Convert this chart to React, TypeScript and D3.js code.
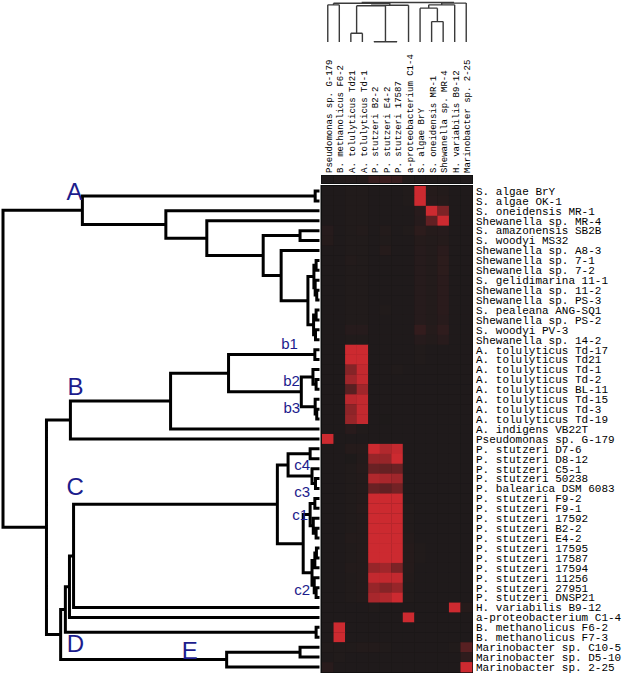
import React from "react";
import * as d3 from "d3";

const rowLabels = [
  "S. algae BrY", "S. algae OK-1", "S. oneidensis MR-1", "Shewanella sp. MR-4",
  "S. amazonensis SB2B", "S. woodyi MS32", "Shewanella sp. A8-3", "Shewanella sp. 7-1",
  "Shewanella sp. 7-2", "S. gelidimarina 11-1", "Shewanella sp. 11-2", "Shewanella sp. PS-3",
  "S. pealeana ANG-SQ1", "Shewanella sp. PS-2", "S. woodyi PV-3", "Shewanella sp. 14-2",
  "A. tolulyticus Td-17", "A. tolulyticus Td21", "A. tolulyticus Td-1", "A. tolulyticus Td-2",
  "A. tolulyticus BL-11", "A. tolulyticus Td-15", "A. tolulyticus Td-3", "A. tolulyticus Td-19",
  "A. indigens VB22T", "Pseudomonas sp. G-179", "P. stutzeri D7-6", "P. stutzeri D8-12",
  "P. stutzeri C5-1", "P. stutzeri 50238", "P. balearica DSM 6083", "P. stutzeri F9-2",
  "P. stutzeri F9-1", "P. stutzeri 17592", "P. stutzeri B2-2", "P. stutzeri E4-2",
  "P. stutzeri 17595", "P. stutzeri 17587", "P. stutzeri 17594", "P. stutzeri 11256",
  "P. stutzeri 27951", "P. stutzeri DNSP21", "H. variabilis B9-12", "a-proteobacterium C1-4",
  "B. methanolicus F6-2", "B. methanolicus F7-3", "Marinobacter sp. C10-5", "Marinobacter sp. D5-10",
  "Marinobacter sp. 2-25",
];

const colLabels = [
  "Pseudomonas sp. G-179", "B. methanolicus F6-2", "A. tolulyticus Td21", "A. tolulyticus Td-1",
  "P. stutzeri B2-2", "P. stutzeri E4-2", "P. stutzeri 17587", "a-proteobacterium C1-4",
  "S. algae BrY", "S. oneidensis MR-1", "Shewanella sp. MR-4", "H. variabilis B9-12",
  "Marinobacter sp. 2-25",
];

const headerValues = [0.03, 0.04, 0.05, 0.05, 0.16, 0.18, 0.16, 0.04, 0.03, 0.03, 0.03, 0.03, 0.03];

const heatValues: number[][] = [
  [.03, .03, .04, .04, .03, .03, .03, .04, 1, .06, .05, .03, .03],
  [.03, .03, .04, .04, .03, .03, .03, .04, 1, .07, .06, .03, .03],
  [.03, .03, .04, .04, .03, .03, .03, .03, .08, 1, .55, .03, .03],
  [.03, .03, .04, .04, .03, .03, .03, .03, .07, .4, 1, .03, .03],
  [.07, .03, .04, .05, .03, .05, .03, .04, .1, .06, .07, .03, .03],
  [.06, .03, .04, .04, .03, .04, .03, .03, .06, .05, .06, .03, .03],
  [.03, .03, .04, .04, .03, .06, .03, .03, .07, .05, .09, .03, .03],
  [.03, .03, .05, .04, .03, .03, .03, .03, .07, .05, .1, .03, .03],
  [.03, .03, .04, .04, .03, .03, .03, .03, .07, .05, .1, .03, .03],
  [.03, .03, .04, .04, .03, .03, .03, .03, .07, .05, .09, .03, .03],
  [.03, .03, .04, .04, .03, .03, .03, .03, .07, .05, .09, .03, .03],
  [.03, .03, .04, .04, .03, .03, .03, .03, .07, .05, .09, .03, .03],
  [.03, .03, .04, .04, .03, .04, .03, .03, .07, .05, .09, .03, .03],
  [.03, .03, .04, .04, .03, .03, .03, .03, .07, .05, .08, .03, .03],
  [.03, .03, .07, .07, .03, .03, .03, .03, .14, .06, .12, .03, .03],
  [.03, .03, .04, .04, .03, .03, .03, .03, .07, .05, .08, .03, .03],
  [.03, .03, 1, 1, .03, .03, .03, .03, .04, .03, .03, .03, .03],
  [.03, .03, 1, 1, .03, .03, .03, .03, .04, .03, .03, .03, .03],
  [.03, .03, .6, .95, .03, .03, .04, .03, .03, .03, .03, .03, .03],
  [.03, .03, .75, .95, .03, .03, .03, .03, .03, .03, .03, .03, .03],
  [.03, .03, .35, .75, .03, .03, .03, .03, .03, .03, .03, .03, .03],
  [.03, .03, .9, .95, .03, .03, .03, .03, .03, .03, .03, .03, .03],
  [.03, .03, .65, .95, .03, .03, .03, .03, .03, .03, .03, .03, .03],
  [.03, .03, .7, .95, .03, .02, .03, .03, .03, .03, .03, .03, .03],
  [.03, .03, .08, .04, .03, .03, .03, .03, .03, .03, .03, .03, .03],
  [1, .03, .03, .03, .03, .03, .03, .03, .03, .03, .03, .03, .03],
  [.03, .03, .06, .06, 1, .85, .95, .03, .03, .03, .03, .03, .03],
  [.03, .03, .02, .05, .7, .7, 1, .03, .03, .03, .03, .03, .03],
  [.03, .03, .04, .06, .45, .42, .45, .03, .03, .03, .03, .03, .03],
  [.03, .03, .04, .05, .85, .8, .75, .03, .03, .03, .03, .03, .03],
  [.03, .03, .04, .05, .45, .4, .5, .03, .03, .03, .03, .03, .03],
  [.03, .03, .04, .05, 1, 1, 1, .03, .03, .03, .03, .03, .03],
  [.03, .03, .04, .06, 1, 1, 1, .04, .03, .03, .03, .03, .03],
  [.03, .03, .04, .05, 1, 1, 1, .04, .03, .03, .03, .03, .03],
  [.03, .03, .04, .05, 1, 1, 1, .04, .03, .03, .03, .03, .03],
  [.03, .03, .05, .05, 1, 1, 1, .05, .03, .03, .03, .03, .03],
  [.03, .03, .04, .05, 1, 1, 1, .06, .04, .03, .03, .03, .03],
  [.03, .03, .04, .05, 1, 1, 1, .06, .04, .03, .03, .03, .03],
  [.03, .03, .05, .05, .7, .75, .55, .06, .03, .03, .03, .03, .03],
  [.03, .03, .04, .05, .95, .95, .95, .05, .03, .03, .03, .03, .03],
  [.03, .03, .04, .05, .7, .6, .7, .04, .03, .03, .03, .03, .03],
  [.03, .03, .04, .05, .8, .85, 1, .04, .03, .03, .03, .03, .03],
  [.03, .03, .03, .03, .04, .03, .03, .03, .03, .03, .03, 1, .06],
  [.03, .03, .03, .03, .03, .03, .03, 1, .03, .03, .03, .03, .03],
  [.03, 1, .03, .03, .03, .03, .03, .03, .03, .03, .03, .03, .03],
  [.03, 1, .03, .03, .03, .03, .03, .03, .03, .03, .03, .03, .03],
  [.04, .04, .04, .05, .05, .04, .03, .03, .03, .03, .03, .04, .35],
  [.03, .04, .03, .03, .03, .03, .03, .03, .03, .03, .03, .03, .12],
  [.08, .03, .03, .03, .03, .03, .03, .03, .03, .03, .03, .03, 1],
];

type TNode = { h: number; label?: string; c: (TNode | string)[] };

// row dendrogram: h = merge distance (0..1)
const rowTree: TNode = { h: 1, c: [
  { h: 0.748, label: "A", c: [
    { h: 0.009, c: ["S. algae BrY", "S. algae OK-1"] },
    { h: 0.483, c: [
      "S. oneidensis MR-1",
      { h: 0.353, c: [
        "Shewanella sp. MR-4",
        { h: 0.174, c: [
          { h: 0.057, c: ["S. amazonensis SB2B", "S. woodyi MS32"] },
          { h: 0.117, c: [
            "Shewanella sp. A8-3",
            { h: 0.032, c: [
              { h: 0.013, c: [
                { h: 0.006, c: ["Shewanella sp. 7-1", "Shewanella sp. 7-2"] },
                { h: 0.009, c: ["S. gelidimarina 11-1", { h: 0.004, c: ["Shewanella sp. 11-2", "Shewanella sp. PS-3"] }] },
              ] },
              { h: 0.014, c: [
                { h: 0.006, c: ["S. pealeana ANG-SQ1", "Shewanella sp. PS-2"] },
                { h: 0.008, c: ["S. woodyi PV-3", "Shewanella sp. 14-2"] },
              ] },
            ] },
          ] },
        ] },
      ] },
    ] },
  ] },
  { h: 0.862, c: [
    { h: 0.786, label: "B", c: [
      { h: 0.468, c: [
        { h: 0.284, c: [
          { h: 0.010, label: "b1", c: ["A. tolulyticus Td-17", "A. tolulyticus Td21"] },
          { h: 0.053, c: [
            { h: 0.016, label: "b2", c: ["A. tolulyticus Td-1", { h: 0.006, c: ["A. tolulyticus Td-2", "A. tolulyticus BL-11"] }] },
            { h: 0.009, label: "b3", c: ["A. tolulyticus Td-15", { h: 0.004, c: ["A. tolulyticus Td-3", "A. tolulyticus Td-19"] }] },
          ] },
        ] },
        "A. indigens VB22T",
      ] },
      "Pseudomonas sp. G-179",
    ] },
    { h: 0.817, label: "D", c: [
      { h: 0.802, c: [
        { h: 0.789, c: [
          { h: 0.776, label: "C", c: [
            { h: 0.129, c: [
              { h: 0.095, c: [
                { h: 0.025, label: "c4", c: ["P. stutzeri D7-6", "P. stutzeri D8-12"] },
                { h: 0.019, label: "c3", c: ["P. stutzeri C5-1", { h: 0.008, c: ["P. stutzeri 50238", "P. balearica DSM 6083"] }] },
              ] },
              { h: 0.047, c: [
                { h: 0.025, label: "c1", c: [
                  { h: 0.010, c: ["P. stutzeri F9-2", "P. stutzeri F9-1"] },
                  { h: 0.015, c: ["P. stutzeri 17592", { h: 0.006, c: ["P. stutzeri B2-2", "P. stutzeri E4-2"] }] },
                ] },
                { h: 0.019, label: "c2", c: [
                  { h: 0.010, c: [{ h: 0.005, c: ["P. stutzeri 17595", "P. stutzeri 17587"] }, "P. stutzeri 17594"] },
                  { h: 0.012, c: ["P. stutzeri 11256", { h: 0.006, c: ["P. stutzeri 27951", "P. stutzeri DNSP21"] }] },
                ] },
              ] },
            ] },
            "H. variabilis B9-12",
          ] },
          "a-proteobacterium C1-4",
        ] },
        { h: 0.006, c: ["B. methanolicus F6-2", "B. methanolicus F7-3"] },
      ] },
      { h: 0.290, label: "E", c: [
        { h: 0.057, c: ["Marinobacter sp. C10-5", "Marinobacter sp. D5-10"] },
        "Marinobacter sp. 2-25",
      ] },
    ] },
  ] },
] };

const colTree: TNode = { h: 1, c: [
  { h: 0.98, c: [
    { h: 0.94, c: ["Pseudomonas sp. G-179", "B. methanolicus F6-2"] },
    { h: 0.93, c: [
      { h: 0.916, c: [
        { h: 0.22, c: ["A. tolulyticus Td21", "A. tolulyticus Td-1"] },
        { h: 0.008, c: ["P. stutzeri B2-2", "P. stutzeri E4-2", "P. stutzeri 17587"] },
      ] },
      "a-proteobacterium C1-4",
    ] },
  ] },
  { h: 0.985, c: [
    { h: 0.94, c: [
      { h: 0.857, c: ["S. algae BrY", { h: 0.517, c: ["S. oneidensis MR-1", "Shewanella sp. MR-4"] }] },
      "H. variabilis B9-12",
    ] },
    "Marinobacter sp. 2-25",
  ] },
] };

type LNode = { label: string; x: number; y: number; y0: number; y1: number };

export default function App() {
  const W = 625, H = 675;
  const heatX0 = 322, heatX1 = 472;
  const heatY0 = 186, heatY1 = 672;

  const xCol = d3.scaleBand<string>().domain(colLabels).range([heatX0, heatX1]);
  const yRow = d3.scaleBand<string>().domain(rowLabels).range([heatY0, heatY1]);
  const color = d3.scaleLinear<string>().domain([0, 1]).range(["#1a1a1a", "#cc2a30"]).interpolate(d3.interpolateRgb);
  const rowDendX = d3.scaleLinear().domain([0, 1]).range([318, 3]);
  const colDendY = d3.scaleLinear().domain([0, 1]).range([42, 2.5]);

  // row dendrogram layout
  const rowPath = d3.path();
  const rowNodeLabels: LNode[] = [];
  const layoutRow = (n: TNode | string): { x: number; y: number } => {
    if (typeof n === "string") return { x: rowDendX(0), y: (yRow(n) as number) + yRow.bandwidth() / 2 };
    const kids = n.c.map(layoutRow);
    const x = rowDendX(n.h);
    const y0 = kids[0].y, y1 = kids[kids.length - 1].y;
    rowPath.moveTo(x, y0); rowPath.lineTo(x, y1);
    kids.forEach((k) => { rowPath.moveTo(x, k.y); rowPath.lineTo(k.x, k.y); });
    const y = (y0 + y1) / 2;
    if (n.label) rowNodeLabels.push({ label: n.label, x, y, y0, y1 });
    return { x, y };
  };
  layoutRow(rowTree);

  const colPath = d3.path();
  const layoutCol = (n: TNode | string): { x: number; y: number } => {
    if (typeof n === "string") return { x: (xCol(n) as number) + xCol.bandwidth() / 2, y: colDendY(0) };
    const kids = n.c.map(layoutCol);
    const y = colDendY(n.h);
    const x0 = kids[0].x, x1 = kids[kids.length - 1].x;
    colPath.moveTo(x0, y); colPath.lineTo(x1, y);
    kids.forEach((k) => { colPath.moveTo(k.x, y); colPath.lineTo(k.x, k.y); });
    return { x: (x0 + x1) / 2, y };
  };
  layoutCol(colTree);

  // label placement (layout only)
  const place = (l: LNode) => {
    switch (l.label) {
      case "A": return { x: l.x - 16, y: l.y0 + 4, size: 24, anchor: "start" };
      case "B": return { x: l.x - 3, y: l.y0 - 6, size: 24, anchor: "start" };
      case "C": return { x: l.x - 7, y: l.y0 - 9, size: 24, anchor: "start" };
      case "D": return { x: l.x + 6, y: l.y1 - 8, size: 24, anchor: "start" };
      case "E": return { x: l.x - 45, y: l.y - 1, size: 24, anchor: "start" };
      case "b1": return { x: l.x - 17, y: l.y - 6, size: 15, anchor: "end" };
      case "b2": return { x: l.x - 13, y: l.y + 9, size: 15, anchor: "end" };
      case "b3": return { x: l.x - 15, y: l.y + 6, size: 15, anchor: "end" };
      case "c4": return { x: l.x, y: l.y + 16, size: 15, anchor: "end" };
      case "c3": return { x: l.x - 2, y: l.y + 21, size: 15, anchor: "end" };
      case "c1": return { x: l.x - 2, y: l.y0 + 17, size: 15, anchor: "end" };
      case "c2": return { x: l.x - 2, y: l.y + 22, size: 15, anchor: "end" };
      default: return { x: l.x, y: l.y, size: 15, anchor: "start" };
    }
  };

  const mono = "'Liberation Mono', 'Courier New', monospace";

  return (
    <svg width={W} height={H} style={{ position: "absolute", left: 0, top: 0, background: "#fff" }}>
      <rect x={0} y={0} width={W} height={H} fill="#fff" />
      {/* column dendrogram */}
      <path d={colPath.toString()} fill="none" stroke="#3a3a3a" strokeWidth={1.4} />
      {/* column labels */}
      {colLabels.map((c) => (
        <text key={c} transform={`translate(${(xCol(c) as number) + xCol.bandwidth() / 2 + 1},173) rotate(-90)`}
          dy="0.35em" fontFamily={mono} fontSize={9} fill="#000">{c}</text>
      ))}
      {/* header strip */}
      <rect x={heatX0 - 1} y={175} width={heatX1 - heatX0 + 2} height={9} fill="#111" />
      {colLabels.map((c, i) => (
        <rect key={"h" + c} x={xCol(c)} y={176} width={xCol.bandwidth()} height={7} fill={color(headerValues[i])} />
      ))}
      {/* heatmap */}
      <rect x={heatX0 - 1.5} y={heatY0 - 1} width={heatX1 - heatX0 + 2.5} height={heatY1 - heatY0 + 2} fill="#0d0d0d" />
      {rowLabels.map((r, ri) =>
        colLabels.map((c, ci) => (
          <rect key={r + c} x={xCol(c)} y={yRow(r)} width={xCol.bandwidth() + 0.3} height={yRow.bandwidth() + 0.3}
            fill={color(heatValues[ri][ci])} />
        ))
      )}
      {/* row dendrogram */}
      <path d={rowPath.toString()} fill="none" stroke="#000" strokeWidth={3} strokeLinecap="square" />
      {rowNodeLabels.map((l) => {
        const p = place(l);
        return (
          <text key={l.label} x={p.x} y={p.y} fontSize={p.size} textAnchor={p.anchor as any}
            fontFamily="'Liberation Sans', Arial, sans-serif" fill="#1c1c8c">{l.label}</text>
        );
      })}
      {/* row labels */}
      {rowLabels.map((r) => (
        <text key={"l" + r} x={476} y={(yRow(r) as number) + yRow.bandwidth() / 2} dy="0.35em"
          fontFamily={mono} fontSize={11} fill="#000">{r}</text>
      ))}
    </svg>
  );
}
